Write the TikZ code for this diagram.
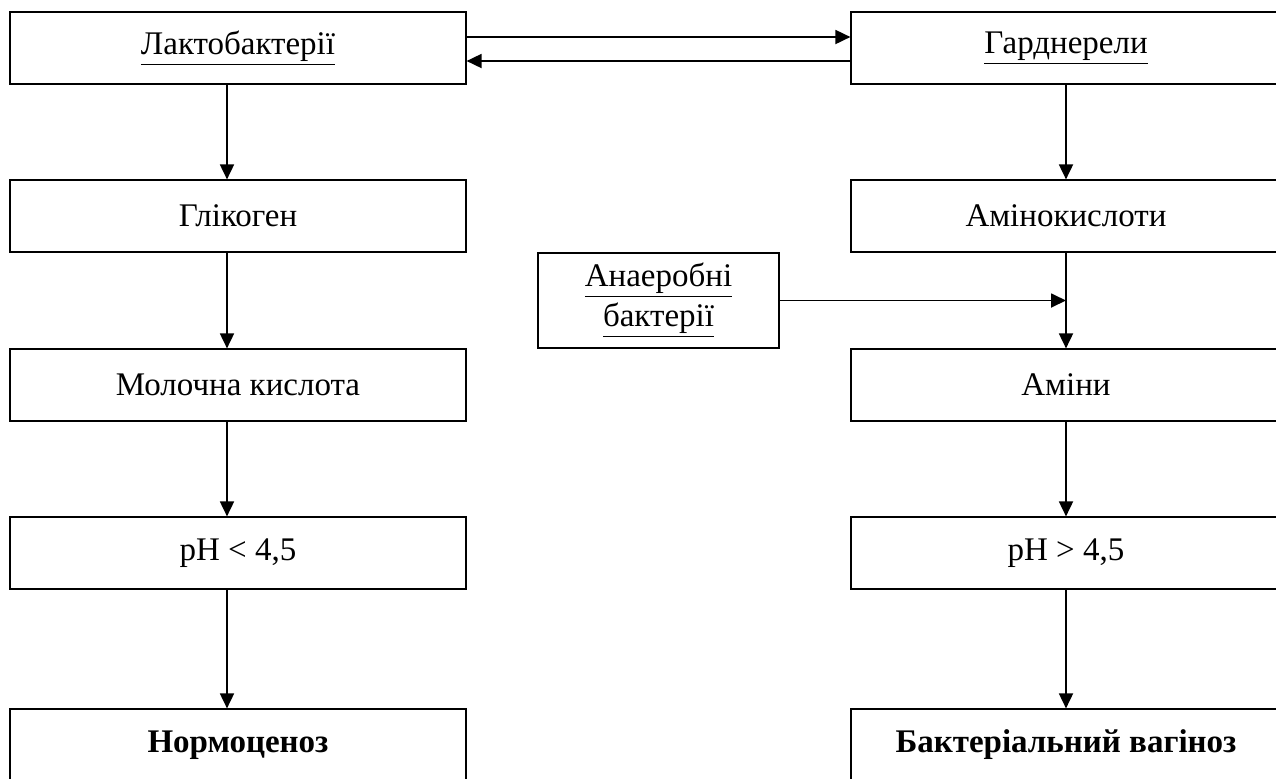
\documentclass[tikz,border=0pt]{standalone}
\usepackage{fontspec}
\setmainfont{Liberation Serif}
\usetikzlibrary{arrows.meta}
\begin{document}
\begin{tikzpicture}[x=0.5pt,y=-0.5pt,
  box/.style={draw,line width=0.6pt,minimum width=228pt,minimum height=36pt,
    inner sep=0pt,font=\fontsize{16.5}{19}\selectfont},
  rbox/.style={box,minimum width=215pt},
  arr/.style={line width=0.9pt,-{Triangle[length=7.5pt,width=7pt]}}]
\useasboundingbox (0,0) rectangle (1276,778);
\clip (0,0) rectangle (1276,778);
% left column
\node[box] (lakt) at (238,48) {\underline{Лактобактерії}};
\node[box] (glik) at (238,216) {Глікоген};
\node[box] (milk) at (238,385) {Молочна кислота};
\node[box] (phl) at (238,553) {pH < 4,5};
\node[box] (norm) at (238,745) {\textbf{Нормоценоз}};
% right column
\node[rbox] (gard) at (1066,48) {\underline{Гарднерели}};
\node[rbox] (amino) at (1066,216) {Амінокислоти};
\node[rbox] (amin) at (1066,385) {Аміни};
\node[rbox] (phr) at (1066,553) {pH > 4,5};
\node[rbox] (vag) at (1066,745) {\textbf{Бактеріальний вагіноз}};
\node[box,minimum width=120.5pt,minimum height=47.5pt,align=center] (anaer)
  at (658.5,300.5) {\underline{Анаеробні}\\[1pt]\underline{бактерії}};
\foreach \a/\b in {lakt/glik,glik/milk,milk/phl,phl/norm} {
  \draw[arr] ([xshift=-5.5pt]\a.south) -- ([xshift=-5.5pt]\b.north);
}
\foreach \a/\b in {gard/amino,amino/amin,amin/phr,phr/vag} {
  \draw[arr] (\a.south) -- (\b.north);
}
\draw[arr] ([yshift=5.5pt]lakt.east) -- ([yshift=5.5pt]gard.west);
\draw[arr] ([yshift=-6.5pt]gard.west) -- ([yshift=-6.5pt]lakt.east);
\draw[arr] (anaer.east) -- (anaer.east -| amino.south);
\end{tikzpicture}
\end{document}
